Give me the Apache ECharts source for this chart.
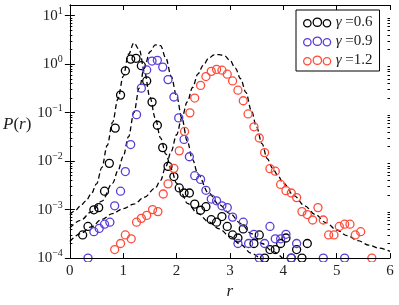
<!DOCTYPE html>
<html><head><meta charset="utf-8">
<script src="https://cdn.jsdelivr.net/npm/echarts@6/dist/echarts.min.js"></script>
<style>html,body{margin:0;padding:0;background:#fff}#c{width:399px;height:305px}</style>
</head><body><div id="c"></div><script>
// ---- data ----
const seriesNames = ['γ =0.6', 'γ =0.9', 'γ =1.2'];
const seriesColors = ['#000000', '#5a3cd8', '#ff4b3a'];

// simulation points [r, P(r)]
const sim06 = [[0.24,3.0e-4],[0.34,4.5e-4],[0.45,9.9e-4],[0.54,1.1e-3],[0.65,2.4e-3],[0.74,9.0e-3],[0.85,0.048],[0.95,0.23],[1.04,0.73],[1.14,1.27],[1.24,1.32],[1.34,0.93],[1.44,0.45],[1.54,0.165],[1.64,0.055],[1.74,0.019],[1.84,7.8e-3],[1.95,4.8e-3],[2.05,2.8e-3],[2.14,2.2e-3],[2.24,2.2e-3],[2.34,1.3e-3],[2.45,9.7e-4],[2.55,1.15e-3],[2.65,6.2e-4],[2.75,5.5e-4],[2.85,7.2e-4],[2.95,4.5e-4],[3.05,3.0e-4],[3.15,2.6e-4],[3.25,4.0e-4],[3.45,2.0e-4],[3.55,3.0e-4],[3.65,1.0e-4],[3.75,1.5e-4],[3.85,1.5e-4],[3.95,2.0e-4],[4.05,2.6e-4],[4.15,1.0e-4],[4.25,1.5e-4],[4.35,1.0e-4],[4.45,2.0e-4]];
const sim09 = [[0.34,1.0e-4],[0.45,3.5e-4],[0.55,4.1e-4],[0.65,5.0e-4],[0.75,5.5e-4],[0.84,1.2e-3],[0.95,2.4e-3],[1.04,6.1e-3],[1.14,0.022],[1.25,0.091],[1.34,0.32],[1.44,0.76],[1.54,1.16],[1.64,1.2],[1.74,0.87],[1.84,0.48],[1.95,0.21],[2.04,0.078],[2.14,0.028],[2.24,0.0123],[2.34,5.0e-3],[2.45,4.2e-3],[2.55,2.5e-3],[2.65,1.65e-3],[2.75,1.52e-3],[2.85,1.2e-3],[2.95,1.1e-3],[3.05,7.0e-4],[3.15,2.0e-4],[3.25,5.5e-4],[3.35,2.0e-4],[3.45,3.1e-4],[3.55,1.0e-4],[3.65,2.0e-4],[3.75,4.5e-4],[3.85,2.5e-4],[3.95,2.5e-4],[4.05,3.1e-4],[4.15,1.0e-4],[4.25,2.0e-4],[4.75,1.0e-4],[5.15,1.0e-4]];
const sim12 = [[0.84,1.5e-4],[0.95,2.0e-4],[1.04,3.0e-4],[1.15,2.5e-4],[1.25,5.5e-4],[1.34,6.6e-4],[1.44,7.6e-4],[1.55,1.0e-3],[1.65,9.1e-4],[1.75,2.1e-3],[1.84,3.4e-3],[1.95,7.1e-3],[2.05,0.0163],[2.15,0.041],[2.25,0.099],[2.34,0.20],[2.45,0.365],[2.55,0.555],[2.65,0.71],[2.75,0.78],[2.85,0.75],[2.95,0.62],[3.05,0.45],[3.15,0.29],[3.25,0.176],[3.34,0.094],[3.45,0.051],[3.55,0.030],[3.65,0.015],[3.75,7.0e-3],[3.85,6.2e-3],[3.95,3.3e-3],[4.05,2.46e-3],[4.15,2.2e-3],[4.25,1.77e-3],[4.35,9.1e-4],[4.45,7.9e-4],[4.55,6.1e-4],[4.65,1.1e-3],[4.75,6.1e-4],[4.85,3.0e-4],[4.95,3.0e-4],[5.05,4.5e-4],[5.15,5.0e-4],[5.25,5.0e-4],[5.35,3.0e-4],[5.45,3.5e-4],[5.66,1.0e-4]];

// theory curves (dashed) [r, P(r)]
const fit06 = [[0.0,7.9e-4],[0.1,9.5e-4],[0.2,1.2e-3],[0.3,1.5e-3],[0.4,2.1e-3],[0.5,3.4e-3],[0.6,7.4e-3],[0.7,0.021],[0.8,0.063],[0.9,0.19],[1.0,0.56],[1.1,1.6],[1.2,2.75],[1.3,2.0],[1.4,0.69],[1.5,0.21],[1.6,0.078],[1.7,0.030],[1.8,0.014],[1.9,6.8e-3],[2.0,3.5e-3],[2.1,2.1e-3],[2.2,1.35e-3],[2.4,8.3e-4],[2.6,5.6e-4],[2.8,4.0e-4],[3.0,2.8e-4],[3.2,1.9e-4],[3.4,1.26e-4],[3.6,8.9e-5]];
const fit09 = [[0.0,4.2e-4],[0.2,6.0e-4],[0.4,8.9e-4],[0.6,1.5e-3],[0.8,3.5e-3],[0.9,6.3e-3],[1.0,0.0126],[1.1,0.032],[1.2,0.10],[1.3,0.32],[1.4,0.89],[1.5,1.78],[1.6,2.5],[1.7,2.4],[1.8,1.32],[1.9,0.56],[2.0,0.22],[2.1,0.076],[2.2,0.026],[2.3,0.0107],[2.4,5.4e-3],[2.6,2.2e-3],[2.8,1.26e-3],[3.0,8.3e-4],[3.2,5.2e-4],[3.4,3.2e-4],[3.6,2.0e-4],[3.8,1.38e-4],[4.0,9.5e-5]];
const fit12 = [[0.0,2.2e-4],[0.2,3.2e-4],[0.4,4.4e-4],[0.6,6.3e-4],[0.8,8.3e-4],[1.0,1.05e-3],[1.2,1.3e-3],[1.4,1.8e-3],[1.6,2.8e-3],[1.7,4.0e-3],[1.8,7.9e-3],[1.9,0.016],[2.0,0.035],[2.1,0.079],[2.2,0.166],[2.3,0.33],[2.4,0.63],[2.5,0.95],[2.6,1.32],[2.7,1.55],[2.8,1.58],[2.9,1.48],[3.0,1.2],[3.1,0.83],[3.2,0.5],[3.3,0.26],[3.4,0.112],[3.5,0.05],[3.6,0.023],[3.7,0.0112],[3.8,7.1e-3],[3.9,5.0e-3],[4.0,3.5e-3],[4.2,1.95e-3],[4.4,1.2e-3],[4.6,7.9e-4],[4.8,5.4e-4],[5.0,3.8e-4],[5.2,2.9e-4],[5.4,2.3e-4],[5.6,1.86e-4],[5.8,1.6e-4],[6.0,1.38e-4]];

const xTickValues = [0, 1, 2, 3, 4, 5, 6];
const yTickValues = [1e-4, 1e-3, 1e-2, 1e-1, 1, 10];
const yMinorValues = [];
for (let e = -4; e <= 0; e++) for (let k = 2; k <= 9; k++) yMinorValues.push(k * Math.pow(10, e));
const xMin = 0, xMax = 6, yMin = 1e-4, yMax = 16.6;

// ---- layout / style ----
const W = 399, H = 305;
const G = {left: 58, right: 9, top: 5, bottom: 43};
const FONT = 'Liberation Serif';
const TXT = '#222';

const chart = echarts.init(document.getElementById('c'), null, {renderer: 'canvas'});

const legendIcon = 'path://M0,5.5a3.7,3.7 0 1,0 7.4,0a3.7,3.7 0 1,0 -7.4,0M9.5,4.5a4.2,4.2 0 1,0 8.4,0a4.2,4.2 0 1,0 -8.4,0M19.6,5.5a3.7,3.7 0 1,0 7.4,0a3.7,3.7 0 1,0 -7.4,0';

function yLabel(v) {
  const e = Math.round(Math.log10(v));
  return '10{s|' + (e < 0 ? '\u2212' + (-e) : e) + '}';
}

const xAxisBase = {
  type: 'value', min: xMin, max: xMax, interval: 1, z: 5,
  axisLine: {show: true, lineStyle: {color: '#000', width: 1}},
  axisTick: {show: true, inside: true, length: 5, lineStyle: {color: '#000'}},
  splitLine: {show: false}
};
const yAxisBase = {
  type: 'log', logBase: 10, min: yMin, max: yMax, z: 5,
  axisLine: {show: true, lineStyle: {color: '#000', width: 1}},
  axisTick: {show: true, inside: true, length: 5, customValues: yTickValues, lineStyle: {color: '#000'}},
  splitLine: {show: false}
};
const yMinorBase = {
  type: 'log', logBase: 10, min: yMin, max: yMax, z: 5,
  axisLine: {show: false},
  axisTick: {show: true, inside: true, length: 2.5, customValues: yMinorValues, lineStyle: {color: '#000'}},
  axisLabel: {show: false},
  splitLine: {show: false}
};

const sims = [sim06, sim09, sim12];
const fits = [fit06, fit09, fit12];
const series = [];
fits.forEach((d) => series.push({
  type: 'line', data: d, xAxisIndex: 0, yAxisIndex: 0,
  showSymbol: false, smooth: 0.35, smoothMonotone: 'x', clip: true, silent: true,
  lineStyle: {color: '#000', width: 1.3, type: [5, 3]}, z: 2
}));
sims.forEach((d, i) => series.push({
  type: 'scatter', name: seriesNames[i], data: d, xAxisIndex: 0, yAxisIndex: 0,
  symbol: 'circle', symbolSize: 8, clip: false,
  itemStyle: {color: 'transparent', borderColor: seriesColors[i], borderWidth: 1.3, opacity: 1}, z: 2
}));

chart.setOption({
  animation: false,
  backgroundColor: '#fff',
  grid: {left: G.left, right: G.right, top: G.top, bottom: G.bottom, containLabel: false},
  xAxis: [
    Object.assign({}, xAxisBase, {
      position: 'bottom',
      axisLabel: {show: true, margin: 5, fontFamily: FONT, fontSize: 15, color: TXT,
                  customValues: xTickValues},
      name: 'r', nameLocation: 'middle', nameGap: 21,
      nameTextStyle: {fontFamily: FONT, fontSize: 17, fontStyle: 'italic', color: TXT}
    }),
    Object.assign({}, xAxisBase, {position: 'top', axisLabel: {show: false}})
  ],
  yAxis: [
    Object.assign({}, yAxisBase, {
      position: 'left',
      axisLabel: {show: true, margin: 7, customValues: yTickValues, formatter: yLabel,
                  fontFamily: FONT, fontSize: 15, color: TXT,
                  rich: {s: {fontFamily: FONT, fontSize: 10, color: TXT, padding: [0, 0, 9, 0]}}},
      name: '{i|P}(' + '{i|r})', nameLocation: 'middle', nameRotate: 0, nameGap: 22,
      nameTextStyle: {fontFamily: FONT, fontSize: 17, color: TXT, padding: [0, 0, 15, 0],
                      rich: {i: {fontFamily: FONT, fontSize: 17, fontStyle: 'italic', color: TXT}}}
    }),
    Object.assign({}, yAxisBase, {position: 'right', axisLabel: {show: false}}),
    Object.assign({}, yMinorBase, {position: 'left'}),
    Object.assign({}, yMinorBase, {position: 'right'})
  ],
  legend: {
    show: true, orient: 'vertical', left: 296, top: 10,
    padding: [5, 7, 3, 7], itemGap: 4, itemWidth: 27, itemHeight: 10,
    backgroundColor: '#fff', borderColor: '#000', borderWidth: 1, borderRadius: 0,
    data: seriesNames.map((n, i) => ({
      name: n, icon: legendIcon,
      itemStyle: {color: 'transparent', borderColor: seriesColors[i], borderWidth: 1.3, opacity: 1}
    })),
    formatter: (n) => '{g|γ} ' + n.split(' ')[1],
    textStyle: {fontFamily: FONT, fontSize: 15, color: TXT,
                rich: {g: {fontFamily: FONT, fontSize: 15, fontStyle: 'italic', color: TXT}}}
  },
  graphic: [{
    type: 'rect', left: 0, top: H - G.bottom, silent: true, z: 3,
    shape: {width: W, height: G.bottom}, style: {fill: '#fff'}
  }],
  series: series
});
</script></body></html>
